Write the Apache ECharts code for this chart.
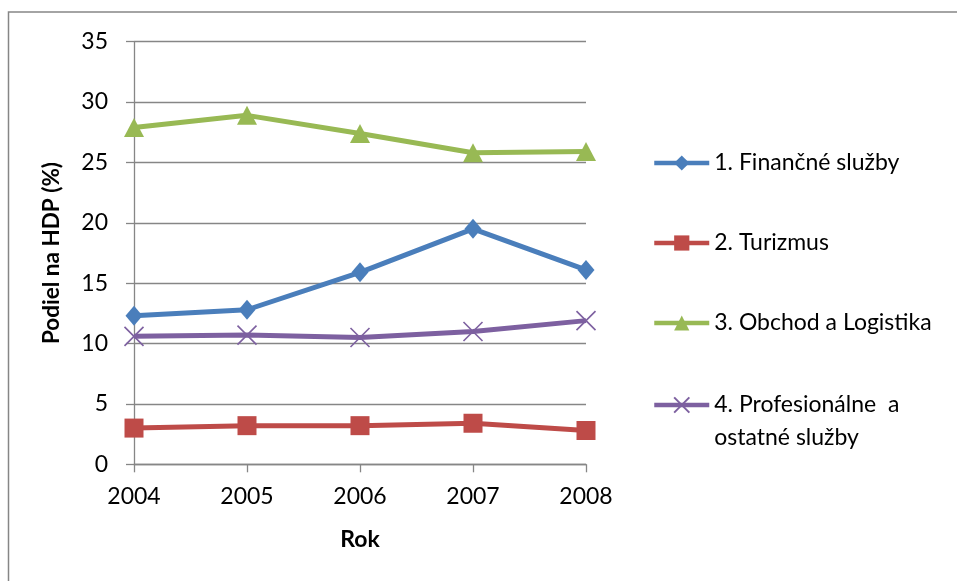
<!DOCTYPE html>
<html>
<head>
<meta charset="utf-8">
<script src="https://cdn.jsdelivr.net/npm/echarts@6/dist/echarts.min.js"></script>
<style>
  html, body { margin: 0; padding: 0; background: #ffffff; }
  #chart { width: 957px; height: 581px; }
</style>
</head>
<body>
<div id="chart"></div>
<script>
// Podiel sektorov na HDP (%), 2004–2008
const years = ['2004', '2005', '2006', '2007', '2008'];
const seriesNames = [
  '1. Finančné služby',
  '2. Turizmus',
  '3. Obchod a Logistika',
  '4. Profesionálne  a ostatné služby'
];
const financne = [12.3, 12.8, 15.9, 19.5, 16.1];
const turizmus = [3.0, 3.2, 3.2, 3.4, 2.8];
const obchod = [27.9, 28.9, 27.4, 25.8, 25.9];
const profesionalne = [10.6, 10.7, 10.5, 11.0, 11.9];
const yTicks = { min: 0, max: 35, interval: 5 };

const FONT = 'Lato, "Open Sans", sans-serif';
const GRID_COLOR = '#868686';
const colors = ['#4A7EBB', '#BE4B48', '#98B954', '#7D60A0'];

const chart = echarts.init(document.getElementById('chart'), null, { renderer: 'canvas' });

function lineSeries(name, data, color, symbol, symbolSize, extraItemStyle) {
  return {
    name: name,
    type: 'line',
    data: data,
    symbol: symbol,
    symbolSize: symbolSize,
    showAllSymbol: true,
    lineStyle: { color: color, width: 5 },
    itemStyle: Object.assign({ color: color }, extraItemStyle || {}),
    emphasis: { disabled: true },
    animation: false
  };
}

const legendText = {
  fontFamily: FONT,
  fontSize: 23,
  color: '#000000',
  lineHeight: 33
};

chart.setOption({
  backgroundColor: '#ffffff',
  animation: false,
  textStyle: { fontFamily: FONT },
  grid: { left: 134, right: 371, top: 41.7, bottom: 116.7, containLabel: false },
  graphic: [{
    type: 'rect',
    shape: { x: 8.5, y: 12, width: 1000, height: 1000 },
    style: { fill: 'none', stroke: GRID_COLOR, lineWidth: 1.5 },
    silent: true
  }],
  legend: [{
    orient: 'vertical',
    left: 652,
    top: 146.5,
    padding: 0,
    itemWidth: 55,
    itemHeight: 19,
    itemGap: 47,
    data: seriesNames.slice(0, 3),
    textStyle: legendText,
    lineStyle: { width: 4.5 },
    selectedMode: false
  }, {
    orient: 'vertical',
    left: 652,
    top: 355.5,
    padding: 0,
    itemWidth: 55,
    itemHeight: 19,
    data: [seriesNames[3]],
    formatter: function () {
      return '\u00a0\n4. Profesionálne  a\nostatné služby';
    },
    textStyle: legendText,
    lineStyle: { width: 4.5 },
    selectedMode: false
  }],
  xAxis: {
    type: 'category',
    data: years,
    boundaryGap: false,
    name: 'Rok',
    nameLocation: 'middle',
    nameGap: 64,
    nameTextStyle: { fontFamily: FONT, fontSize: 23, fontWeight: 'bold', color: '#000000' },
    axisLine: { show: true, lineStyle: { color: GRID_COLOR, width: 1.3 } },
    axisTick: { show: true, length: 8, lineStyle: { color: GRID_COLOR, width: 1.3 } },
    axisLabel: { fontFamily: FONT, fontSize: 23, color: '#000000', margin: 21 },
    splitLine: { show: false }
  },
  yAxis: {
    type: 'value',
    min: yTicks.min,
    max: yTicks.max,
    interval: yTicks.interval,
    name: 'Podiel na HDP (%)',
    nameLocation: 'middle',
    nameGap: 71,
    nameTextStyle: { fontFamily: FONT, fontSize: 22.5, fontWeight: 'bold', color: '#000000' },
    axisLine: { show: true, lineStyle: { color: GRID_COLOR, width: 1.3 } },
    axisTick: { show: true, length: 8, lineStyle: { color: GRID_COLOR, width: 1.3 } },
    axisLabel: { fontFamily: FONT, fontSize: 23, color: '#000000', margin: 26 },
    splitLine: { show: true, lineStyle: { color: GRID_COLOR, width: 1.3 } }
  },
  series: [
    lineSeries(seriesNames[0], financne, colors[0], 'diamond', [17, 20]),
    lineSeries(seriesNames[1], turizmus, colors[1], 'rect', [19, 19]),
    lineSeries(seriesNames[2], obchod, colors[2], 'triangle', [20, 19]),
    lineSeries(seriesNames[3], profesionalne, colors[3], 'path://M0,0L10,10M10,0L0,10', [19, 19],
      { color: 'rgba(0,0,0,0)', borderColor: colors[3], borderWidth: 1.6 })
  ]
});
</script>
</body>
</html>
